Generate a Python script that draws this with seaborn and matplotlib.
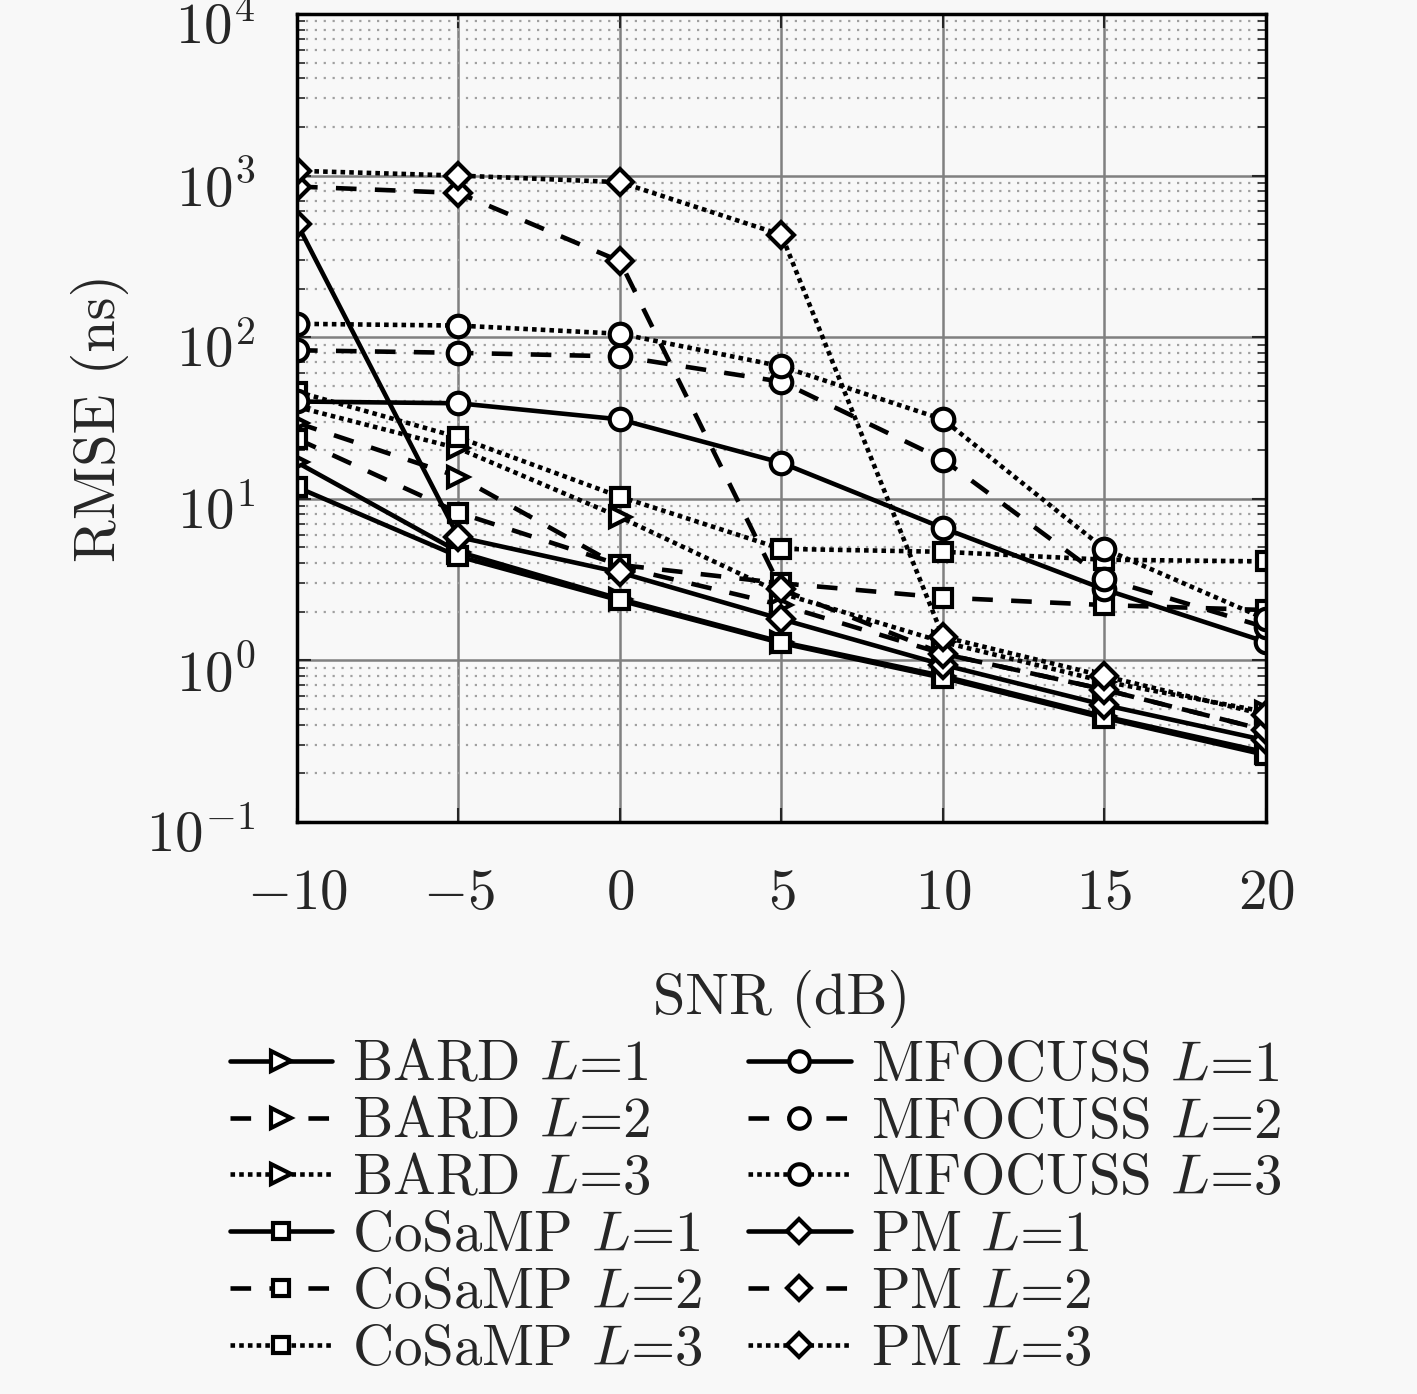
import matplotlib
matplotlib.use('Agg')
import matplotlib.pyplot as plt
import matplotlib.transforms as mtrans
from matplotlib.ticker import FuncFormatter, LogLocator, NullFormatter
import numpy as np
import seaborn as sns

### data (RMSE in ns vs SNR in dB)
snr = [-10, -5, 0, 5, 10, 15, 20]

bard_1 = [16.8, 4.7, 2.4, 1.3, 0.80, 0.45, 0.27]
bard_2 = [29.5, 13.7, 3.8, 2.2, 1.1, 0.66, 0.37]
bard_3 = [37, 20.5, 7.7, 2.6, 1.3, 0.74, 0.48]

cosamp_1 = [11.8, 4.4, 2.35, 1.28, 0.78, 0.44, 0.26]
cosamp_2 = [23.5, 8.2, 3.9, 3.0, 2.45, 2.2, 2.05]
cosamp_3 = [46, 24, 10.3, 4.9, 4.7, 4.2, 4.1]

mfocuss_1 = [40, 39, 31, 16.7, 6.6, 2.75, 1.3]
mfocuss_2 = [83, 80, 76, 53, 17.5, 3.2, 1.6]
mfocuss_3 = [121, 118, 105, 66, 31, 4.9, 1.8]

pm_1 = [505, 5.8, 3.5, 1.8, 0.94, 0.53, 0.32]
pm_2 = [855, 780, 295, 2.75, 1.1, 0.66, 0.37]
pm_3 = [1070, 1000, 910, 430, 1.4, 0.8, 0.46]

methods = ['BARD', 'CoSaMP', 'MFOCUSS', 'PM']
series = {
    'BARD': [bard_1, bard_2, bard_3],
    'CoSaMP': [cosamp_1, cosamp_2, cosamp_3],
    'MFOCUSS': [mfocuss_1, mfocuss_2, mfocuss_3],
    'PM': [pm_1, pm_2, pm_3],
}
markers = {'BARD': '>', 'CoSaMP': 's', 'MFOCUSS': 'o', 'PM': 'D'}
msizes = {'BARD': 15, 'CoSaMP': 12.5, 'MFOCUSS': 15.5, 'PM': 13}
styles = ['-', (0, (4.5, 4)), (0, (1, 0.9))]

###########################################################

sns.set_style('ticks')
plt.rcParams['font.family'] = ['cmr10', 'DejaVu Serif']
plt.rcParams['mathtext.fontset'] = 'cm'
plt.rcParams['axes.formatter.use_mathtext'] = True
plt.rcParams['axes.unicode_minus'] = True

bg = '#f8f8f8'
fig = plt.figure(figsize=(14.17, 13.94), dpi=100, facecolor=bg)
ax = fig.add_axes([0.2096, 0.4103, 0.6838, 0.5797])
ax.set_facecolor(bg)

handles = []
for m in methods:
    for i, vals in enumerate(series[m]):
        sns.lineplot(x=snr, y=vals, ax=ax, color='k', linestyle=styles[i],
                     linewidth=3.3, marker=markers[m], markersize=msizes[m],
                     markerfacecolor='white', markeredgecolor='k',
                     markeredgewidth=3, dash_capstyle='butt', legend=False)
        line = ax.get_lines()[-1]
        line.set_label(m + ' $L$=' + str(i + 1))
        handles.append(line)
if ax.get_legend() is not None:
    ax.get_legend().remove()

ax.set_yscale('log')
ax.set_xlim(-10, 20)
ax.set_ylim(0.1, 1e4)
ax.set_xticks(snr)
ax.xaxis.set_major_formatter(FuncFormatter(lambda v, p: '$%g$' % v))
ax.yaxis.set_minor_locator(LogLocator(base=10, subs=np.arange(2, 10)))
ax.yaxis.set_minor_formatter(NullFormatter())

ax.grid(which='major', color='#808080', linewidth=1.8, linestyle='-')
ax.grid(which='minor', axis='y', color='#a0a0a0', linewidth=1.6, linestyle=(0, (1, 3)))
ax.set_axisbelow(True)

for s in ax.spines.values():
    s.set_linewidth(2.5)
    s.set_color('k')
ax.tick_params(which='both', direction='in', top=True, right=True,
               labelsize=41, pad=30)
ax.tick_params(axis='x', pad=34)
ax.tick_params(which='major', length=10, width=1.5)
ax.tick_params(which='minor', length=6, width=1.2)

# nudge the y tick labels down a little, like the reference
shift = mtrans.ScaledTranslation(0, -8 / 100, fig.dpi_scale_trans)
for t in ax.yaxis.get_major_ticks():
    t.label1.set_transform(t.label1.get_transform() + shift)

ax.set_xlabel('SNR (dB)', fontsize=42, labelpad=36)
ax.set_ylabel('RMSE (ns)', fontsize=42, labelpad=12)

fig.legend(handles=handles, loc='upper left', bbox_to_anchor=(0.142, 0.274),
           ncol=2, frameon=False, fontsize=41, labelspacing=0.1,
           handlelength=1.8, handletextpad=0.35, columnspacing=0.8,
           borderpad=0, markerscale=0.95)

fig.savefig('out.png', dpi=100, facecolor=bg)
